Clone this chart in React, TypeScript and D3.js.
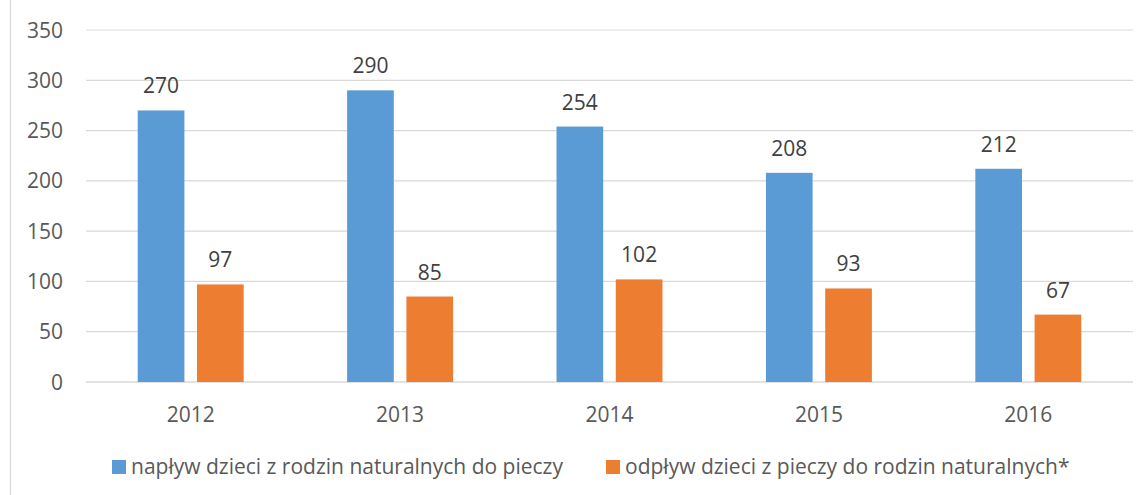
import React, { useEffect, useRef } from 'react';
import * as d3 from 'd3';

const years = ['2012', '2013', '2014', '2015', '2016'];
const naplyw = [270, 290, 254, 208, 212];
const odplyw = [97, 85, 102, 93, 67];
const seriesNames = [
  'napływ dzieci z rodzin naturalnych do pieczy',
  'odpływ dzieci z pieczy do rodzin naturalnych*',
];
const seriesColors = ['#5b9bd5', '#ed7d31'];
const yTicks = [0, 50, 100, 150, 200, 250, 300, 350];

const W = 1146;
const H = 495;
const FONT = '"Open Sans", "Noto Sans", sans-serif';

export default function App() {
  const ref = useRef<SVGSVGElement>(null);

  useEffect(() => {
    const svg = d3.select(ref.current);
    svg.selectAll('*').remove();

    const x0 = d3.scaleBand<string>()
      .domain(years)
      .range([86, 1133])
      .paddingInner(0.494)
      .paddingOuter(0.247);

    const x1 = d3.scaleBand<number>()
      .domain([0, 1])
      .range([0, x0.bandwidth()])
      .paddingInner(0.2125);

    const y = d3.scaleLinear().domain([0, 350]).range([382, 30]);

    // left frame edge
    svg.append('line')
      .attr('x1', 10.5).attr('x2', 10.5)
      .attr('y1', 0).attr('y2', H)
      .attr('stroke', '#d9d9d9')
      .attr('stroke-width', 1.3);

    // gridlines
    svg.append('g')
      .selectAll('line')
      .data(yTicks)
      .enter()
      .append('line')
      .attr('x1', 86)
      .attr('x2', 1133)
      .attr('y1', d => y(d))
      .attr('y2', d => y(d))
      .attr('stroke', '#d9d9d9')
      .attr('stroke-width', d => (d === 0 ? 1.5 : 1.2));

    // y tick labels
    svg.append('g')
      .selectAll('text')
      .data(yTicks)
      .enter()
      .append('text')
      .attr('x', 63)
      .attr('y', d => y(d) + 7.5)
      .attr('text-anchor', 'end')
      .attr('fill', '#595959')
      .style('font-family', FONT)
      .style('font-size', '21px')
      .text(d => d);

    // year labels
    svg.append('g')
      .selectAll('text')
      .data(years)
      .enter()
      .append('text')
      .attr('x', d => (x0(d) as number) + x0.bandwidth() / 2)
      .attr('y', 422)
      .attr('text-anchor', 'middle')
      .attr('fill', '#595959')
      .style('font-family', FONT)
      .style('font-size', '21px')
      .text(d => d);

    const rows = years.map((yr, i) => ({ yr, vals: [naplyw[i], odplyw[i]] }));

    const groups = svg.append('g')
      .selectAll('g')
      .data(rows)
      .enter()
      .append('g')
      .attr('transform', d => `translate(${x0(d.yr)},0)`);

    groups.selectAll('rect')
      .data(d => d.vals.map((v, s) => ({ v, s })))
      .enter()
      .append('rect')
      .attr('x', d => x1(d.s) as number)
      .attr('y', d => y(d.v))
      .attr('width', x1.bandwidth())
      .attr('height', d => y(0) - y(d.v))
      .attr('fill', d => seriesColors[d.s]);

    groups.selectAll('text')
      .data(d => d.vals.map((v, s) => ({ v, s })))
      .enter()
      .append('text')
      .attr('x', d => (x1(d.s) as number) + x1.bandwidth() / 2)
      .attr('y', d => y(d.v) - 17)
      .attr('text-anchor', 'middle')
      .attr('fill', '#404040')
      .style('font-family', FONT)
      .style('font-size', '21px')
      .text(d => d.v);

    // legend
    const legendX = [112, 606];
    const legend = svg.append('g')
      .selectAll('g')
      .data(seriesNames)
      .enter()
      .append('g')
      .attr('transform', (d, i) => `translate(${legendX[i]},460)`);

    legend.append('rect')
      .attr('width', 14)
      .attr('height', 14)
      .attr('fill', (d, i) => seriesColors[i]);

    legend.append('text')
      .attr('x', 19)
      .attr('y', 14)
      .attr('fill', '#595959')
      .style('font-family', FONT)
      .style('font-size', '21px')
      .text(d => d);
  }, []);

  return (
    <svg
      ref={ref}
      width={W}
      height={H}
      style={{ position: 'absolute', left: 0, top: 0, background: '#fff' }}
    />
  );
}
